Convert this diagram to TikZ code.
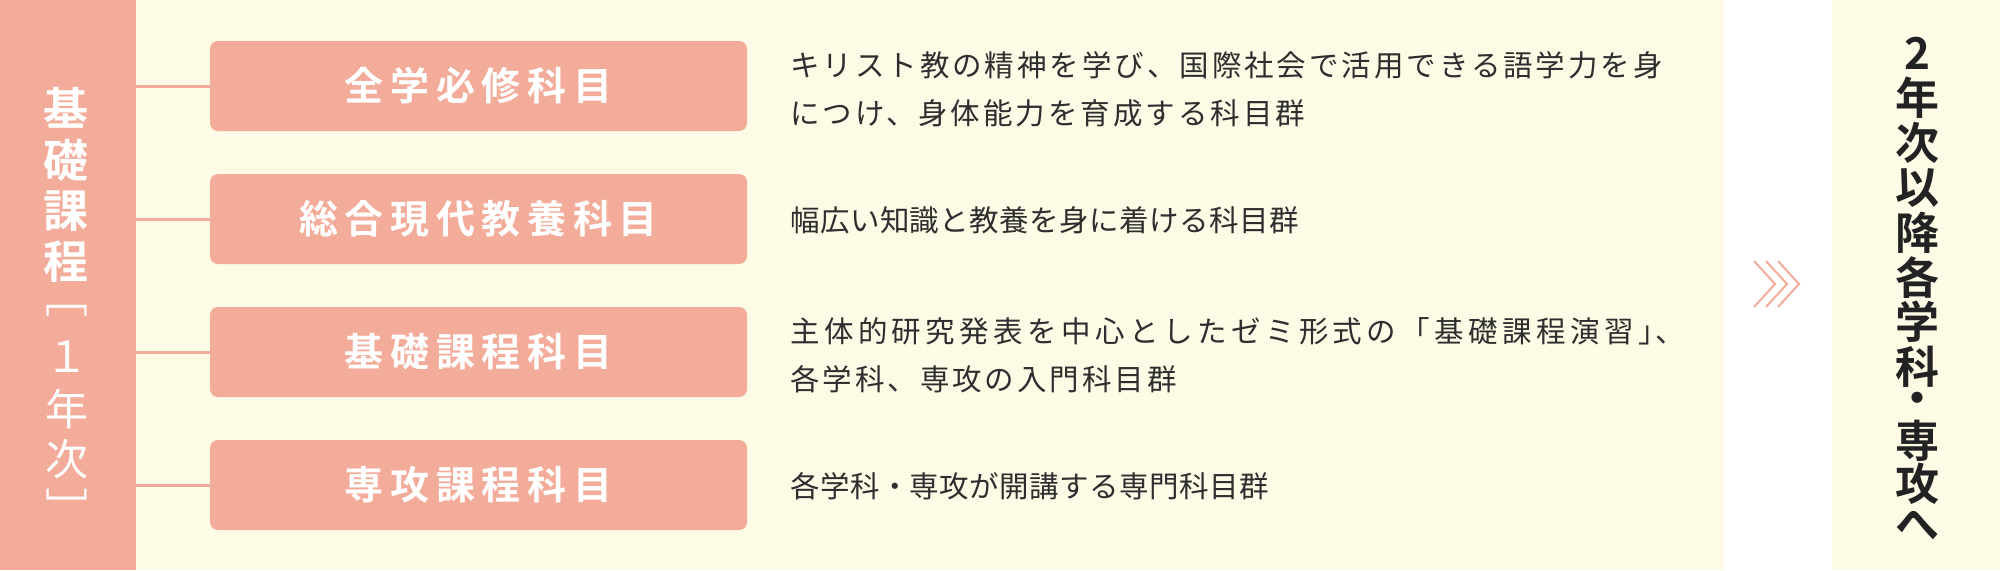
\documentclass[tikz,border=0pt]{standalone}
\usepackage{fontspec}
\setmainfont{Noto Sans CJK JP}[BoldFont={Noto Sans CJK JP Bold}]
\newfontfamily\boxfont{Noto Sans CJK JP Bold}[LetterSpace=17]
\newfontfamily\descfont{Noto Sans CJK JP}[LetterSpace=10]
\newfontfamily\descfontn{Noto Sans CJK JP}[LetterSpace=1.5]
\definecolor{salmon}{HTML}{F3AC9A}
\definecolor{cream}{HTML}{FDFAE6}
\definecolor{ink}{HTML}{222222}
\definecolor{desctext}{HTML}{2E2E2E}
\begin{document}
\begin{tikzpicture}[x=1pt,y=-1pt,
  subj/.style={fill=salmon,rounded corners=8pt,minimum width=537pt,minimum height=90pt,inner sep=0pt,text=white,font=\boxfont\fontsize{39}{39}\selectfont},
  desc/.style={anchor=west,align=left,inner sep=0pt,text=desctext,font=\descfont\fontsize{29.5}{48}\selectfont},
  descn/.style={desc,font=\descfontn\fontsize{29.5}{48}\selectfont},
  tate/.style={inner sep=0pt},
  link/.style={salmon,line width=3pt}]
%\draw[help lines,step=100] (0,0) grid (2000,570);
\fill[cream] (0,0) rectangle (2000,570);
\fill[white] (1724,0) rectangle (1832,570);
\node[fill=salmon,minimum width=136pt,minimum height=570pt,inner sep=0pt,anchor=north west] (kiso) at (0,0) {};
% left title
\foreach \c/\y [count=\i] in {基/108,礎/160,課/211,程/262}
  \node[tate,text=white,font=\bfseries\fontsize{45}{45}\selectfont] (k\i) at (66,\y) {\c};
\foreach \c/\y [count=\i] in {﹇/311,１/357,年/409,次/459,﹈/507}
  \node[tate,text=white,font=\fontsize{43}{43}\selectfont] (n\i) at (67,\y) {\c};
% subjects
\node[subj] (s1) at (478.5,86) {全学必修科目};
\node[subj] (s2) at (478.5,219) {総合現代教養科目};
\node[subj] (s3) at (478.5,352) {基礎課程科目};
\node[subj] (s4) at (478.5,485) {専攻課程科目};
\foreach \s in {s1,s2,s3,s4}
  \draw[link] (kiso.east |- \s) -- (\s.west);
\node[desc] (d1) at (790,89) {キリスト教の精神を学び、国際社会で活用できる語学力を身\\につけ、身体能力を育成する科目群};
\node[descn] (d2) at (790,220) {幅広い知識と教養を身に着ける科目群};
\node[desc] (d3) at (790,355) {{\addfontfeature{LetterSpace=15}主体的研究発表を中心としたゼミ形式の「基礎課程演習」\kern-12pt、}\\各学科、専攻の入門科目群};
\node[descn] (d4) at (790,486) {各学科・専攻が開講する専門科目群};
% arrows
\foreach \k in {0,1,2}
  \draw[salmon,line width=2pt] (1754+12*\k,261) -- (1775+12*\k,284) -- (1754+12*\k,307);
% right title
\foreach \c/\y [count=\i] in {2/53,年/98,次/143,以/188,降/233,各/278,学/322,科/367,・/403,専/441,攻/484,へ/525}
  \node[tate,text=ink,font=\bfseries\fontsize{44}{44}\selectfont] (r\i) at (1917,\y) {\c};
\end{tikzpicture}
\end{document}
